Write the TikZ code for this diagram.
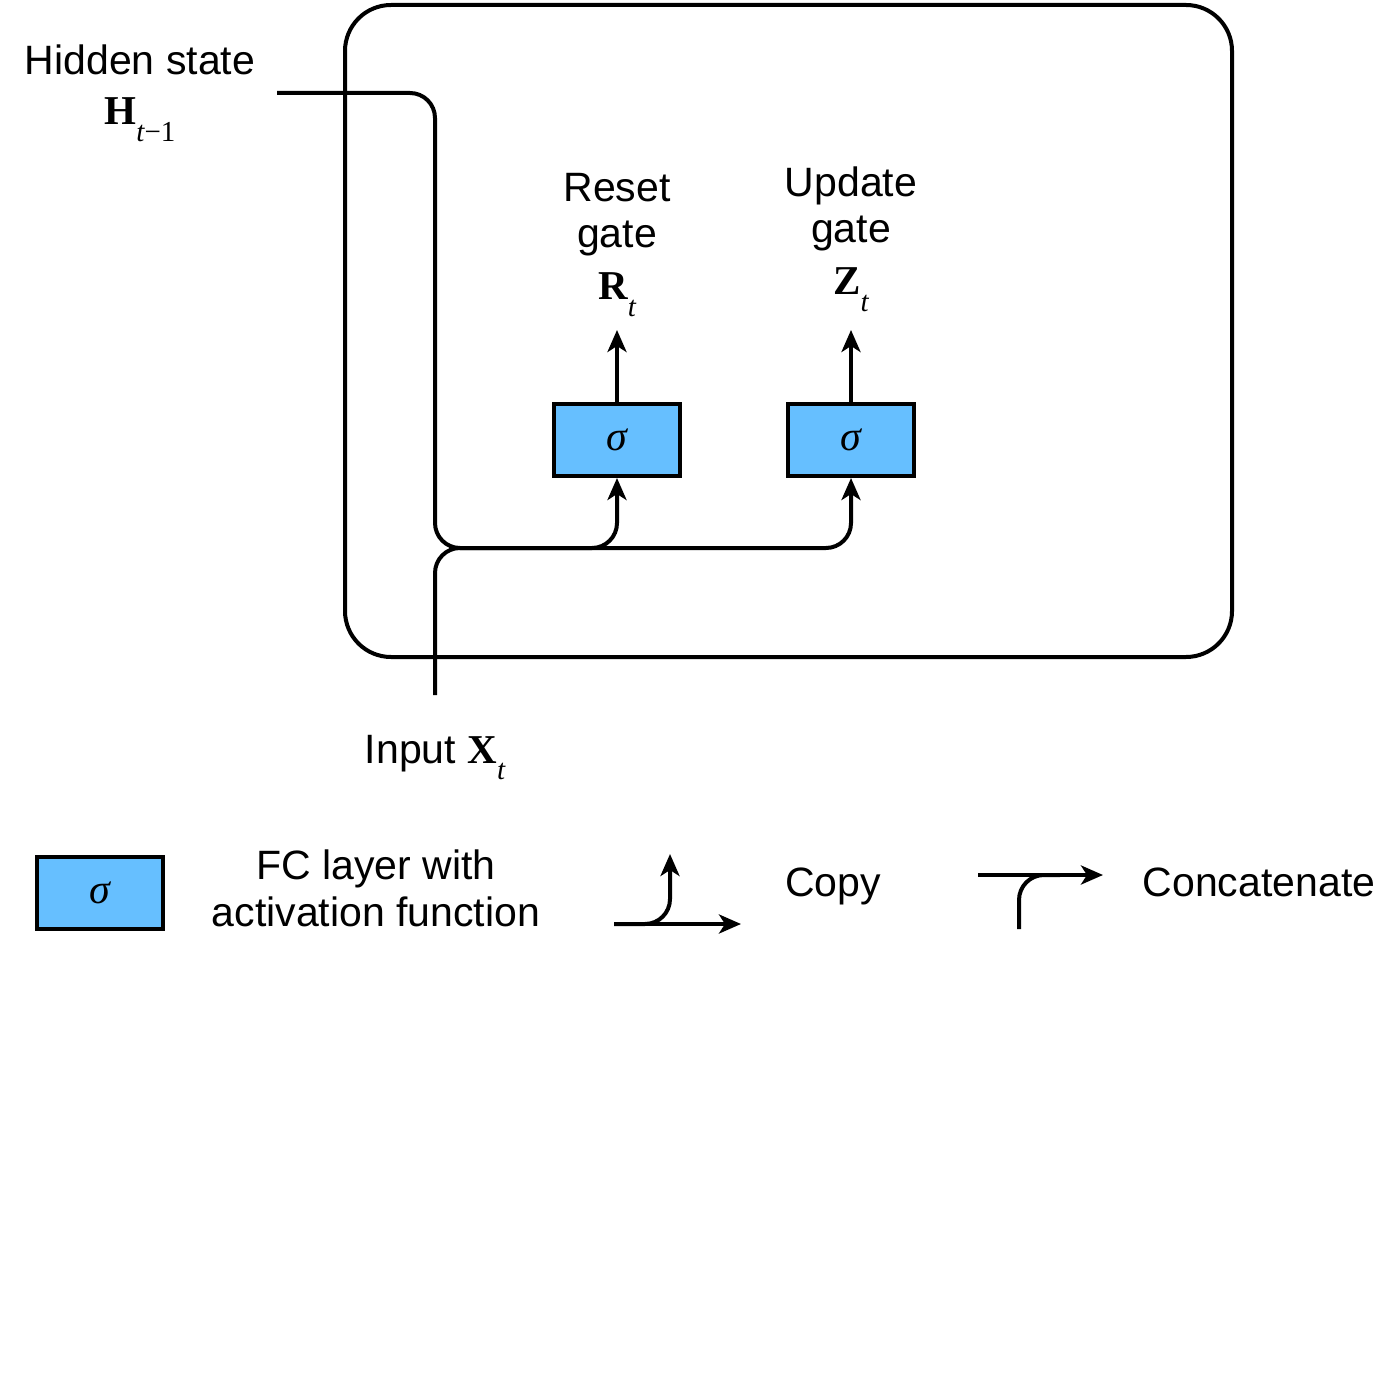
\documentclass[tikz,border=0pt]{standalone}
\usepackage{fontspec}
\setmainfont{Liberation Sans}
\newfontfamily\serifm{Liberation Serif}
\usetikzlibrary{arrows.meta}
\definecolor{fcblue}{HTML}{66BFFF}
\newcommand\bvec[2]{{\serifm\bfseries #1}\raisebox{-0.4em}{\fontsize{14.5}{16}\selectfont\serifm #2}}
\begin{document}
\begin{tikzpicture}[x=0.5pt,y=-0.5pt,
  conn/.style={line width=2pt,rounded corners=12.5pt},
  tip/.style={-{Stealth[length=11pt,width=9.5pt,inset=3pt]}},
  fcbox/.style={draw,line width=2pt,fill=fcblue,minimum width=63pt,minimum height=36pt,inner sep=0pt,font=\fontsize{21}{24}\selectfont\serifm\itshape},
  lbl/.style={anchor=base,inner sep=0pt,font=\fontsize{20.5}{24}\selectfont},
  mlbl/.style={anchor=base,inner sep=0pt,font=\fontsize{20.5}{24}\selectfont}]
\useasboundingbox (0,0) rectangle (1400,1400);
% outer cell
\draw[line width=2pt,rounded corners=23pt] (345,5) rectangle (1232,657);
% boxes
\node[fcbox] (rbox) at (617,440) {σ};
\node[fcbox] (zbox) at (851,440) {σ};
% labels
\node[lbl] (hid) at (140,75) {Hidden state};
\node[mlbl] (hvar) at (140,125) {\bvec{H}{\itshape t\upshape −1}};
\node[lbl] (rl1) at (617,202) {Reset};
\node[lbl] (rl2) at (617,248) {gate};
\node[mlbl] (rvar) at (617,300) {\bvec{R}{\itshape t}};
\node[lbl] (zl1) at (851,197) {Update};
\node[lbl] (zl2) at (851,243) {gate};
\node[mlbl] (zvar) at (851,295) {\bvec{Z}{\itshape t}};
\node[lbl] (inp) at (435,763) {Input \bvec{X}{\itshape t}};
% coordinates
\coordinate (hstart) at (277,93);
\coordinate (hcorner) at (435,93);
\coordinate (jr) at (435,548);
\coordinate (xin) at (435,695);
\coordinate (rout) at (617,330);
\coordinate (zout) at (851,330);
% connectors
\draw[conn,tip] (hstart) -- (hcorner) -- (jr) -| (rbox.south);
\draw[conn,tip] (xin) -- (jr) -| (zbox.south);
\draw[conn,tip] (rbox.north) -- (rout);
\draw[conn,tip] (zbox.north) -- (zout);
% legend
\node[fcbox] (lbox) at (99.5,892.5) {σ};
\node[lbl] (lt1) at (376,879) {FC layer with};
\node[lbl] (lt2) at (376,926) {activation function};
\coordinate (cpa) at (614,924);
\coordinate (cpb) at (741,924);
\coordinate (cpc) at (670,924);
\coordinate (cpd) at (670,854);
\draw[conn,tip] (cpa) -- (cpb);
\draw[conn,tip] (cpa) -- (cpc) -- (cpd);
\node[lbl] (cpy) at (833,896) {Copy};
\coordinate (cca) at (978,875);
\coordinate (ccb) at (1103,875);
\coordinate (ccc) at (1019,929);
\coordinate (ccd) at (1019,875);
\coordinate (cce) at (1060,875);
\draw[conn,tip] (cca) -- (ccb);
\draw[conn] (ccc) -- (ccd) -- (cce);
\node[lbl] (cct) at (1259,896) {Concatenate};
\end{tikzpicture}
\end{document}
